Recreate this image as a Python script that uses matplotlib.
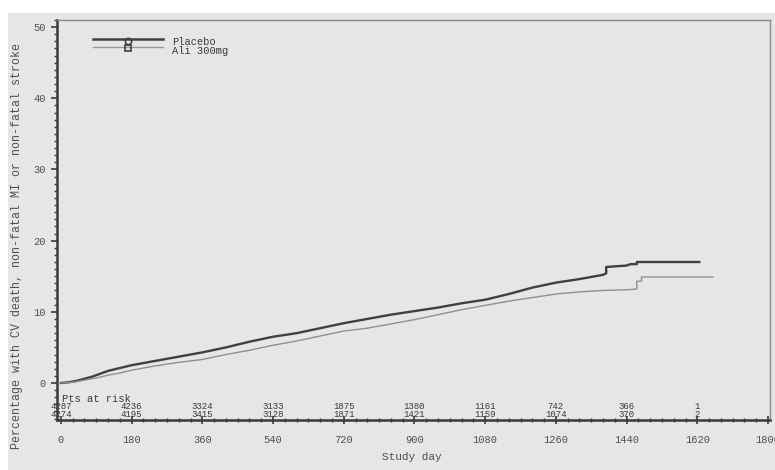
import matplotlib
matplotlib.use("Agg")
import matplotlib.pyplot as plt
from matplotlib.patches import Rectangle
from matplotlib.ticker import FixedLocator, MultipleLocator

# cumulative event curves (% with event); repeated days mark the late jumps
placebo_day = [0, 20, 40, 60, 80, 100, 120, 150, 180, 210, 240, 270, 300, 330, 360, 420,
               480, 540, 600, 660, 720, 780, 840, 900, 960, 1020, 1080, 1140, 1200, 1260,
               1320, 1380, 1388, 1388, 1440, 1450, 1466, 1466, 1625]
placebo_pct = [0, 0.1, 0.3, 0.6, 0.9, 1.3, 1.7, 2.1, 2.5, 2.8, 3.1, 3.4, 3.7, 4.0, 4.3, 5.0,
               5.8, 6.5, 7.0, 7.7, 8.4, 9.0, 9.6, 10.1, 10.6, 11.2, 11.7, 12.5, 13.4, 14.1,
               14.6, 15.2, 15.4, 16.3, 16.5, 16.7, 16.7, 17.0, 17.0]

ali_day = [0, 30, 60, 90, 120, 150, 180, 240, 300, 360, 420, 480, 540, 600, 660, 720,
           780, 840, 900, 960, 1020, 1080, 1140, 1200, 1260, 1320, 1380, 1440, 1466,
           1466, 1478, 1478, 1660]
ali_pct = [0, 0.1, 0.4, 0.7, 1.1, 1.4, 1.8, 2.4, 2.9, 3.3, 4.0, 4.6, 5.3, 5.9, 6.6, 7.3,
           7.7, 8.3, 8.9, 9.6, 10.3, 10.9, 11.5, 12.0, 12.5, 12.8, 13.0, 13.1, 13.2,
           14.3, 14.3, 14.9, 14.9]

# patients at risk table
risk_days = [0, 180, 360, 540, 720, 900, 1080, 1260, 1440, 1620]
risk_placebo = [4287, 4236, 3324, 3133, 1875, 1380, 1161, 742, 366, 1]
risk_ali = [4274, 4195, 3415, 3128, 1871, 1421, 1159, 1074, 370, 2]

x_ticks = [0, 180, 360, 540, 720, 900, 1080, 1260, 1440, 1620, 1800]
y_ticks = [0, 10, 20, 30, 40, 50]

bg = '#e6e6e6'
ink = '#3a3a3a'
mono = 'Liberation Mono'

fig = plt.figure(figsize=(7.75, 4.7), dpi=100, facecolor='white')
fig.patches.append(Rectangle((8 / 775, 0), 1, 1 - 13 / 470, transform=fig.transFigure,
                             facecolor=bg, edgecolor='none', zorder=-10))
ax = fig.add_axes([57 / 775, 1 - 420 / 470, 713 / 775, 400 / 470])
ax.set_facecolor(bg)

ax.plot(placebo_day, placebo_pct, color='#404040', lw=1.7)
ax.plot(ali_day, ali_pct, color='#8f8f8f', lw=1.0)

ax.set_xlim(-10, 1805)
ax.set_ylim(-5.2, 51)

ax.xaxis.set_major_locator(FixedLocator(x_ticks))
ax.xaxis.set_minor_locator(MultipleLocator(30))
ax.yaxis.set_major_locator(FixedLocator(y_ticks))
ax.yaxis.set_minor_locator(MultipleLocator(1))
ax.set_xticklabels([str(t) for t in x_ticks])
ax.set_yticklabels([str(t) for t in y_ticks])
ax.tick_params(axis='x', which='major', direction='inout', length=6, width=1.2,
               colors=ink, labelsize=7.5, pad=8)
ax.tick_params(axis='x', which='minor', direction='inout', length=3, width=1.0, colors=ink)
ax.tick_params(axis='y', which='major', direction='out', length=4, width=1.2,
               colors=ink, labelsize=7.5, pad=4)
ax.tick_params(axis='y', which='minor', direction='out', length=2, width=1.0, colors=ink)
for lab in ax.get_xticklabels() + ax.get_yticklabels():
    lab.set_family(mono)
    lab.set_color('#505050')

for side in ['left', 'bottom']:
    ax.spines[side].set_color(ink)
    ax.spines[side].set_linewidth(1.8)
for side in ['top', 'right']:
    ax.spines[side].set_color('#8a8a8a')
    ax.spines[side].set_linewidth(1.0)

ax.set_xlabel('Study day', family=mono, fontsize=8, color='#505050', va='center')
ax.set_ylabel('Percentage with CV death, non-fatal MI or non-fatal stroke', family=mono,
              fontsize=8.4, color='#505050', va='center')
ax.xaxis.set_label_coords(0.497, -0.0925)
ax.yaxis.set_label_coords(-0.056, 0.435)

# numbers at risk
ax.text(3, -2.2, 'Pts at risk', family=mono, fontsize=7.5, color=ink, va='center', ha='left')
for d, a, b in zip(risk_days, risk_placebo, risk_ali):
    ax.text(d, -3.3, str(a), family=mono, fontsize=6.5, color=ink, ha='center', va='center')
    ax.text(d, -4.4, str(b), family=mono, fontsize=6.5, color=ink, ha='center', va='center')

# legend
ax.plot([0.0505, 0.149], [0.952, 0.952], transform=ax.transAxes, color='#404040', lw=1.8)
ax.plot([0.0995], [0.947], transform=ax.transAxes, marker='o', ms=4.5, mfc='none',
        mec='#404040', mew=1.2)
ax.plot([0.0505, 0.149], [0.932, 0.932], transform=ax.transAxes, color='#9a9a9a', lw=1.0)
ax.plot([0.0995], [0.929], transform=ax.transAxes, marker='s', ms=4.5, mfc='none',
        mec='#404040', mew=1.2)
ax.text(0.161, 0.946, 'Placebo', transform=ax.transAxes, family=mono, fontsize=7.5,
        color=ink, va='center')
ax.text(0.161, 0.923, 'Ali 300mg', transform=ax.transAxes, family=mono, fontsize=7.5,
        color=ink, va='center')

fig.savefig('out.png', dpi=100, facecolor=fig.get_facecolor())
